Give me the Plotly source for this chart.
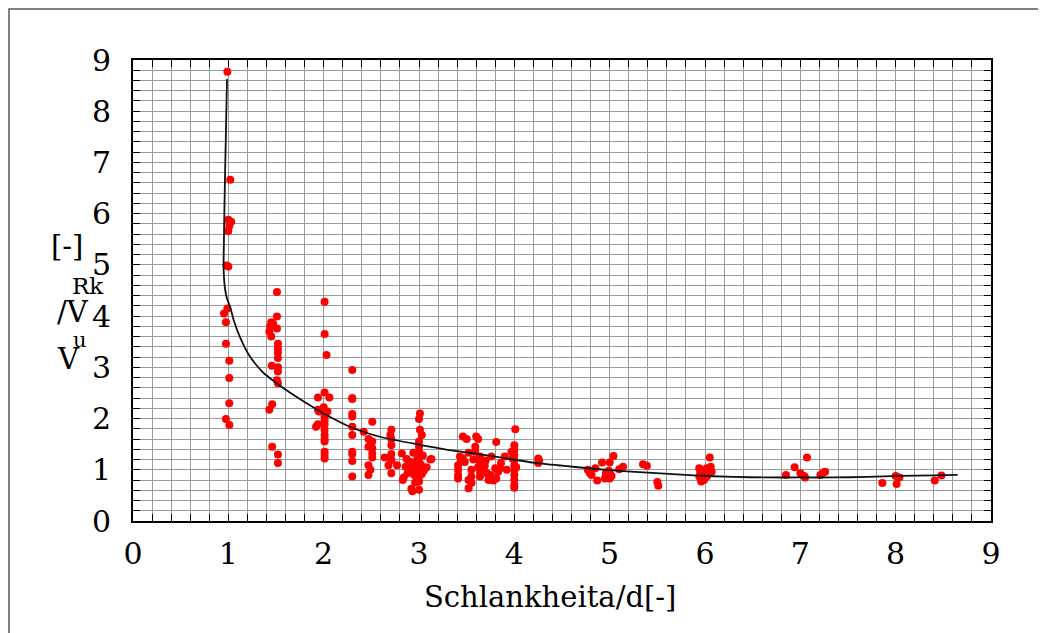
import plotly.graph_objects as go

# ---- data ----
pts_x = [
    0.99, 1.02, 1.00, 1.03, 1.01, 1.00, 0.98, 1.00, 0.99, 0.955, 0.975, 0.975, 1.01, 1.01, 1.01, 0.975, 1.01,
    1.51, 1.51, 1.45, 1.47, 1.44, 1.51, 1.43, 1.45, 1.52, 1.52, 1.52, 1.52, 1.455, 1.52, 1.52, 1.51, 1.52, 1.46, 1.43, 1.46, 1.52, 1.52,
    2.01, 2.01, 2.03, 1.94, 2.01, 2.06, 2.00, 1.94, 1.95, 2.04, 2.02, 2.01, 1.92, 1.94, 2.01, 2.01, 2.01, 2.01, 2.01, 2.01, 2.01, 2.01, 2.01,
    2.30, 2.30, 2.30, 2.30, 2.30, 2.30, 2.30, 2.30, 2.30, 2.30, 2.30,
    2.51, 2.42, 2.47, 2.51, 2.47, 2.51, 2.51, 2.51, 2.47, 2.49, 2.47,
    2.71, 2.70, 2.71, 2.71, 2.64, 2.71, 2.71, 2.68, 2.77, 2.71, 2.82,
    2.87, 2.84, 2.83, 2.92, 2.93, 2.94, 2.91, 2.92, 2.90, 2.95, 2.96, 3.01, 3.00, 3.01, 3.03, 3.00, 3.00, 3.00, 3.00,
    3.00, 3.00, 3.00, 3.00, 3.00, 3.00, 3.06, 3.08, 3.13, 2.98, 3.02, 2.97, 3.03, 2.99, 3.04, 2.96, 3.05, 2.88, 2.86, 3.12,
    3.46, 3.50, 3.60, 3.62, 3.59, 3.59, 3.81, 3.52, 3.43, 3.46, 3.41, 3.41, 3.41, 3.41, 3.52, 3.52, 3.55, 3.55, 3.55,
    3.64, 3.64, 3.64, 3.64, 3.67, 3.67, 3.71, 3.75, 3.73, 3.76, 3.80, 3.83, 3.85, 3.86, 3.90, 3.92, 3.81, 3.78,
    3.48, 3.57, 3.69, 3.44, 3.62, 3.70,
    4.01, 4.00, 4.00, 4.00, 4.00, 4.00, 4.00, 4.00, 4.00, 4.00, 4.00, 3.98, 4.02, 3.97,
    4.25, 4.25, 4.26,
    4.77, 4.79, 4.81, 4.85, 4.87, 4.92, 4.96, 4.97, 5.00, 5.00, 4.95, 5.00, 5.04, 5.10, 5.14, 4.99, 5.02,
    5.35, 5.39, 5.50, 5.51,
    6.05, 5.94, 5.95, 5.98, 6.02, 6.05, 6.07, 6.03, 5.96, 5.99, 6.02, 5.94, 6.00, 6.06,
    6.85, 6.94, 7.07, 7.00, 7.04, 7.05, 7.21, 7.26, 7.24,
    7.86, 8.00, 8.04, 8.01, 8.41, 8.48,
]
pts_y = [
    8.77, 6.66, 5.88, 5.84, 5.76, 5.66, 4.99, 4.97, 4.15, 4.05, 3.88, 3.46, 3.13, 2.79, 2.30, 1.99, 1.875,
    4.47, 3.99, 3.88, 3.85, 3.80, 3.76, 3.70, 3.60, 3.46, 3.37, 3.29, 3.18, 3.03, 3.00, 2.92, 2.75, 2.69, 2.28, 2.17, 1.45, 1.30, 1.13,
    4.28, 3.65, 3.24, 2.41, 2.51, 2.41, 2.22, 2.17, 2.14, 2.14, 2.08, 2.04, 1.84, 1.89, 1.96, 1.89, 1.78, 1.68, 1.60, 1.55, 1.35, 1.29, 1.22,
    2.95, 2.40, 2.38, 2.09, 2.04, 1.84, 1.68, 1.35, 1.31, 1.17, 0.87,
    1.94, 1.74, 1.60, 1.55, 1.45, 1.42, 1.32, 1.24, 1.09, 1.00, 0.90,
    1.78, 1.68, 1.60, 1.48, 1.24, 1.31, 1.19, 1.09, 1.09, 0.93, 1.32,
    1.21, 0.85, 0.80, 0.63, 0.58, 1.33, 1.15, 0.97, 1.02, 0.90, 0.75, 2.10, 1.99, 1.78, 1.68, 1.55, 1.45, 1.35, 1.26,
    1.16, 1.06, 0.96, 0.87, 0.77, 0.61, 1.03, 1.05, 1.21, 1.20, 1.10, 1.00, 0.92, 0.82, 1.28, 1.12, 0.98, 0.93, 1.06, 1.20,
    1.65, 1.60, 1.65, 1.60, 1.45, 1.35, 1.54, 1.33, 1.26, 1.22, 1.09, 1.00, 0.90, 0.83, 0.80, 0.64, 1.00, 0.87, 0.74,
    1.26, 1.13, 0.96, 0.87, 1.13, 1.00, 0.93, 0.90, 0.80, 1.26, 1.03, 0.96, 1.03, 1.13, 1.26, 1.00, 0.83, 0.79,
    1.15, 1.20, 1.08, 1.16, 1.05, 1.18,
    1.79, 1.48, 1.39, 1.29, 1.19, 1.09, 1.00, 0.90, 0.80, 0.70, 0.65, 1.22, 1.05, 1.35,
    1.22, 1.13, 1.18,
    1.00, 0.94, 0.90, 1.03, 0.79, 1.14, 0.93, 0.87, 0.93, 0.83, 0.83, 1.14, 1.27, 1.01, 1.06, 0.98, 0.88,
    1.11, 1.08, 0.76, 0.69,
    1.24, 1.03, 0.96, 1.00, 1.03, 1.03, 0.96, 0.93, 0.77, 0.80, 0.87, 0.87, 0.90, 1.06,
    0.90, 1.05, 1.24, 0.93, 0.88, 0.85, 0.90, 0.96, 0.94,
    0.74, 0.88, 0.85, 0.72, 0.79, 0.89,
]

curve_x = [0.986, 0.975, 0.966, 0.958, 0.953, 0.950, 0.956, 0.968, 0.985, 1.02, 1.06, 1.12, 1.21, 1.30,
           1.37, 1.47, 1.55, 1.75, 2.0, 2.3, 2.6, 3.0, 3.3, 3.5, 3.85, 4.2, 4.5, 4.83, 5.18, 5.53,
           5.88, 6.3, 6.65, 7.0, 7.35, 7.7, 8.05, 8.4, 8.65]
curve_y = [8.63, 7.6, 6.8, 6.0, 5.4, 4.97, 4.7, 4.5, 4.35, 4.17, 3.9, 3.6, 3.26, 3.03,
           2.89, 2.74, 2.63, 2.38, 2.10, 1.82, 1.64, 1.49, 1.39, 1.34, 1.24, 1.14, 1.08, 1.02, 0.97, 0.93,
           0.89, 0.86, 0.85, 0.85, 0.85, 0.86, 0.88, 0.89, 0.90]

ref_level = 1.0
tick_vals = [0, 1, 2, 3, 4, 5, 6, 7, 8, 9]
x_title = "Schlankheita/d[-]"
y_title_parts = ["[-]", "Rk", "/V", "u", "V"]

# ---- layout geometry (page body adds an 8px offset) ----
OFF = 8
W, H = 1046, 633
L, R, T, B = 133 - OFF, 991 - OFF, 60 - OFF, 521 - OFF
def px(x):
    return (x - OFF - L) / (R - L)
def py(y):
    return (B - (y - OFF)) / (B - T)

FONT = "DejaVu Serif"

fig = go.Figure()
fig.add_trace(go.Scatter(x=pts_x, y=pts_y, mode="markers",
                         marker=dict(color="#ff0000", size=8, line=dict(width=0)),
                         showlegend=False, hoverinfo="skip"))
fig.add_trace(go.Scatter(x=curve_x, y=curve_y, mode="lines",
                         line=dict(color="#111111", width=1.8, shape="spline", smoothing=0.6),
                         showlegend=False, hoverinfo="skip"))
fig.add_hline(y=ref_level, line=dict(color="black", width=2), layer="above")

axis_common = dict(
    range=[0, 9], tickvals=tick_vals, ticktext=[str(v) for v in tick_vals],
    showline=True, linecolor="black", linewidth=2, mirror="allticks",
    ticks="inside", ticklen=7, tickcolor="black", tickwidth=1.2,
    showgrid=True, gridcolor="#9a9a9a", gridwidth=1.2,
    zeroline=False,
    minor=dict(dtick=0.2, tick0=0, ticks="inside", ticklen=7, tickcolor="black", tickwidth=1.2,
               showgrid=True, gridcolor="#9a9a9a", gridwidth=1.2),
    tickfont=dict(family=FONT, size=30, color="black"),
)
fig.update_xaxes(**axis_common, ticklabelstandoff=5)
fig.update_yaxes(**axis_common, ticklabelstandoff=14)

ann = []
pieces = [(y_title_parts[0], 67, 246, 29), (y_title_parts[1], 88, 286, 23),
          (y_title_parts[2], 73, 312, 29), (y_title_parts[3], 80, 340, 21),
          (y_title_parts[4], 68, 359, 29)]
for txt, xx, yy, sz in pieces:
    ann.append(dict(text=txt, x=px(xx), y=py(yy), xref="paper", yref="paper",
                    xanchor="center", yanchor="middle", showarrow=False,
                    font=dict(family=FONT, size=sz, color="black")))
ann.append(dict(text=x_title, x=px(550), y=py(597), xref="paper", yref="paper",
                xanchor="center", yanchor="middle", showarrow=False,
                font=dict(family=FONT, size=29, color="black")))

fig.update_layout(
    width=W, height=H,
    margin=dict(l=L, r=W - R, t=T, b=H - B),
    paper_bgcolor="white", plot_bgcolor="white",
    font=dict(family=FONT),
    annotations=ann,
    shapes=[dict(type="rect", xref="paper", yref="paper",
                 x0=px(9), x1=px(1100), y0=py(700), y1=py(9),
                 line=dict(color="#555555", width=1.5), layer="below")],
)

fig.write_html("out.html")
